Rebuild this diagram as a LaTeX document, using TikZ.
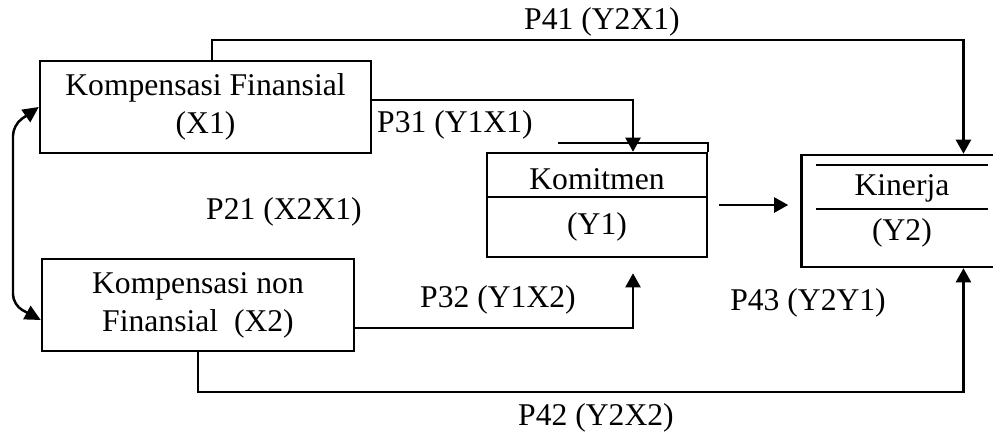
\documentclass[tikz,border=0pt]{standalone}
\usepackage{fontspec}
\setmainfont{Liberation Serif}
\usetikzlibrary{arrows.meta, positioning, calc}
\tikzset{
  % Box styles
  varbox/.style={rectangle, draw=black, line width=1.4pt, inner sep=2pt, font=\fontsize{18}{21.5}\selectfont, align=center},
  % Label styles
  pathlabel/.style={font=\fontsize{18}{21.5}\selectfont, inner sep=1pt},
  % Arrow styles
  arrow/.style={-{Triangle[length=8pt,width=8.5pt]}, line width=1.4pt},
  dblarrow/.style={{Triangle[length=9pt,width=8.5pt]}-{Triangle[length=9pt,width=8.5pt]}, line width=1.4pt, rounded corners=6pt},
  divider/.style={line width=1.4pt}
}

\begin{document}
\begin{tikzpicture}
  \useasboundingbox (0,0) rectangle (19.86,-8.74);

  % Variable boxes
  \node[varbox, minimum width=6.62cm, minimum height=1.84cm] (X1) at (4.11,-2.14) {Kompensasi Finansial\\(X1)};
  \node[varbox, minimum width=6.24cm, minimum height=1.84cm] (X2) at (3.96,-6.10) {Kompensasi non\\Finansial\ \ (X2)};
  \node[varbox, minimum width=4.4cm, minimum height=2.08cm] (Y1) at (11.94,-4.10) {Komitmen\\[4.5pt](Y1)};
  \node[varbox, minimum width=4.02cm, minimum height=2.24cm, right=1.84cm of Y1, yshift=-0.12cm] (Y2) {Kinerja\\[4.5pt](Y2)};

  % Inner lines of the boxes
  \draw[divider] ($(Y1.north west)+(0,-0.9)$) -- ($(Y1.north east)+(0,-0.9)$);
  \draw[divider] ($(Y1.north east)+(-3.0,0.18)$) -- ($(Y1.north east)+(0,0.18)$) -- (Y1.north east);
  \draw[divider] ($(Y2.north west)+(0.32,-0.22)$) -- ++(3.44,0);
  \draw[divider] ($(Y2.north west)+(0.32,-1.10)$) -- ++(3.44,0);

  % Path labels
  \node[pathlabel] (l41) at (12.04,-0.44) {P41 (Y2X1)};
  \node[pathlabel] (l31) at (9.10,-2.50) {P31 (Y1X1)};
  \node[pathlabel] (l21) at (5.68,-4.24) {P21 (X2X1)};
  \node[pathlabel] (l32) at (9.96,-6.00) {P32 (Y1X2)};
  \node[pathlabel] (l43) at (16.16,-6.06) {P43 (Y2Y1)};
  \node[pathlabel] (l42) at (11.92,-8.36) {P42 (Y2X2)};

  % Arrows
  \draw[dblarrow] (X1.west) -- (0.26,-2.5) -- (0.26,-6.1) -- ($(X2.west)+(0,-0.3)$);
  \draw[arrow] ($(X1.north)+(0.13,0)$) -- ++(0,0.4) -| ($(Y2.north)+(1.23,0)$);
  \draw[arrow] ($(X1.east)+(0,0.14)$) -| ($(Y1.north)+(0.72,0)$);
  \draw[arrow, shorten <=0.22cm, shorten >=0.24cm] (Y1.east) -- (Y1.east -| Y2.west);
  \draw[arrow, shorten >=0.3cm] ($(X2.east)+(0,-0.46)$) -| ($(Y1.south)+(0.72,0)$);
  \draw[arrow] (X2.south) -- ++(0,-0.8) -| ($(Y2.south)+(1.23,0)$);
\end{tikzpicture}
\end{document}
